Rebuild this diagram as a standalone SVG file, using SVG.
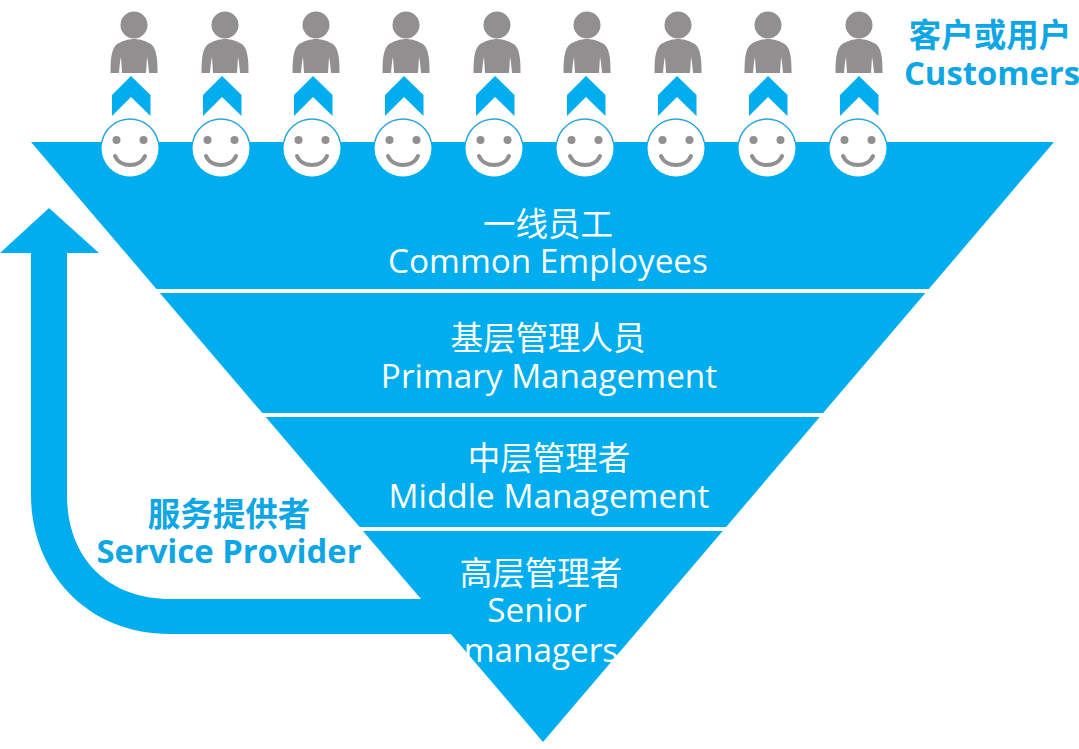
<svg xmlns="http://www.w3.org/2000/svg" width="1079" height="749" viewBox="0 0 1079 749">
<style>
.b{fill:#00adef}
.g{fill:#918f90}
.w{font-family:"Open Sans","Noto Sans CJK SC",sans-serif;fill:#fff;font-size:33.300px;text-anchor:middle}
.c{font-family:"Noto Sans CJK SC",sans-serif;fill:#fff;font-size:32.500px;text-anchor:middle}
.bl{font-family:"Open Sans","Noto Sans CJK SC",sans-serif;fill:#0fa6e6;font-weight:700;font-size:32.800px;text-anchor:middle}
.bc{font-family:"Noto Sans CJK SC",sans-serif;fill:#0fa6e6;font-weight:700;font-size:32.500px;text-anchor:middle}
</style>
<defs>
<g id="person">
<circle cx="0" cy="0" r="13.500" class="g"/>
<path class="g" d="M-23.500 48 C-23.500 36 -23 25 -18 20 C-13 16 -5 14 0 14 C5 14 13 16 18 20 C23 25 23.500 36 23.500 48 H15 C14.500 42 14 36 13 32 L12 48 H-12 L-13 32 C-14 36 -14.500 42 -15 48 Z"/>
</g>
<path id="chev" class="b" d="M0 0 L19.500 19 V40 L0 21 L-19 40 V19 Z"/>
<g id="face">
<circle r="28.500" fill="#fff"/>
<path d="M-28.200 -6 A28.800 28.800 0 0 1 28.200 -6" fill="none" stroke="#2aa5d8" stroke-width="1.500"/>
<circle cx="-13.500" cy="-8" r="4" class="g"/>
<circle cx="13.500" cy="-8" r="4" class="g"/>
<path d="M-15 8 C-10 20 10 20 15 8" fill="none" stroke="#918f90" stroke-width="4" stroke-linecap="round"/>
</g>
</defs>

<g id="connectors">
<path id="provider-arrow" class="b" d="M49 208 L99 253 H67 V495 C67 560 110 599 170 599 H430 L460 634 H170 C85 634 31 570 31 495 V253 H0 Z"/>
</g>

<g id="pyramid">
<path class="b" d="M31 142 H1054 L543 742 Z"/>
<path d="M150 291 H940 M255 415 H830 M350 529 H730" stroke="#fff" stroke-width="4" fill="none"/>
</g>

<g id="customers">
<use href="#person" x="134" y="25"/><use href="#person" x="225" y="25"/><use href="#person" x="316" y="25"/><use href="#person" x="406" y="25"/><use href="#person" x="497" y="25"/><use href="#person" x="587" y="25"/><use href="#person" x="678" y="25"/><use href="#person" x="768" y="25"/><use href="#person" x="859" y="25"/>
</g>
<g id="chevrons">
<use href="#chev" x="131" y="76"/><use href="#chev" x="222" y="76"/><use href="#chev" x="313" y="76"/><use href="#chev" x="404" y="76"/><use href="#chev" x="495" y="76"/><use href="#chev" x="586" y="76"/><use href="#chev" x="677" y="76"/><use href="#chev" x="768" y="76"/><use href="#chev" x="859" y="76"/>
</g>
<g id="faces">
<use href="#face" x="130" y="148"/><use href="#face" x="221" y="148"/><use href="#face" x="312" y="148"/><use href="#face" x="403" y="148"/><use href="#face" x="494" y="148"/><use href="#face" x="585" y="148"/><use href="#face" x="676" y="148"/><use href="#face" x="767" y="148"/><use href="#face" x="858" y="148"/>
</g>

<g id="label-customers">
<text class="bc" x="990" y="47">客户或用户</text>
<text class="bl" x="992" y="85">Customers</text>
</g>
<g id="label-provider">
<text class="bc" x="229" y="526">服务提供者</text>
<text class="bl" x="229" y="563">Service Provider</text>
</g>
<g id="tier-common">
<text class="c" x="548" y="236">一线员工</text>
<text class="w" x="548" y="273">Common Employees</text>
</g>
<g id="tier-primary">
<text class="c" x="548" y="350">基层管理人员</text>
<text class="w" x="549" y="388">Primary Management</text>
</g>
<g id="tier-middle">
<text class="c" x="549" y="470">中层管理者</text>
<text class="w" x="549" y="508">Middle Management</text>
</g>
<g id="tier-senior">
<text class="c" x="541" y="585">高层管理者</text>
<text class="w" x="537" y="622">Senior</text>
<text class="w" x="541" y="662">managers</text>
</g>
</svg>
